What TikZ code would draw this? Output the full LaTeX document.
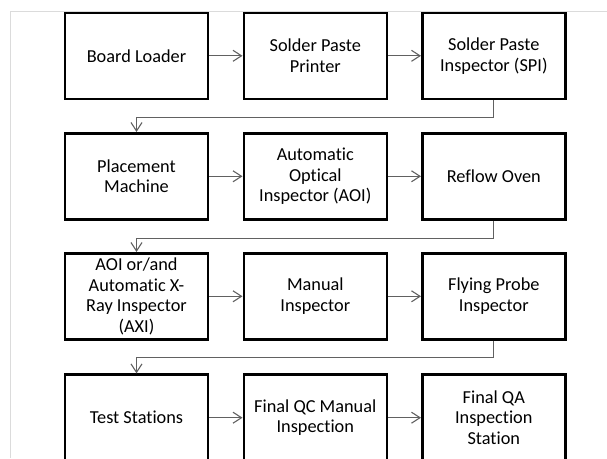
\documentclass[tikz,border=0pt]{standalone}
\usepackage{fontspec}
\setmainfont{Carlito}[Ligatures=NoCommon]
\usetikzlibrary{arrows.meta}
\begin{document}
\begin{tikzpicture}[x=1pt,y=1pt,
  box/.style={draw=black, line width=2.6pt, minimum width=143pt, minimum height=86pt,
    inner sep=0pt, align=center, font=\fontsize{18.3}{20.7}\selectfont},
  conn/.style={draw=black!62, line width=1.1pt, -{Straight Barb[length=8.5pt,width=11pt,line width=1.1pt]}},
  frame/.style={draw=black!14, line width=1pt}]
\useasboundingbox (0,0) rectangle (607,-458);
\clip (0,0) rectangle (607,-458);
\draw[frame] (607,-11) -- (10,-11) -- (10,-458);
% row 1
\node[box] (load) at (136.5,-55.8) {Board Loader};
\node[box] (print) at (315.3,-55.8) {Solder Paste\\Printer};
\node[box] (spi) at (493.8,-55.8) {Solder Paste\\Inspector (SPI)};
% row 2
\node[box] (place) at (136.5,-176.3) {Placement\\Machine};
\node[box] (aoi) at (315.3,-176.3) {Automatic\\Optical\\Inspector (AOI)};
\node[box] (oven) at (493.8,-176.3) {Reflow Oven};
% row 3
\node[box] (axi) at (136.5,-296.3) {AOI or/and\\Automatic X-\\Ray Inspector\\(AXI)};
\node[box] (man) at (315.3,-296.3) {Manual\\Inspector};
\node[box] (fly) at (493.8,-296.3) {Flying Probe\\Inspector};
% row 4
\node[box] (test) at (136.5,-417.7) {Test Stations};
\node[box] (qc) at (315.3,-417.7) {Final QC Manual\\Inspection};
\node[box] (qa) at (493.8,-417.7) {Final QA\\Inspection\\Station};
% horizontal connectors
\draw[conn] (load) -- (print);
\draw[conn] (print) -- (spi);
\draw[conn] (place) -- (aoi);
\draw[conn] (aoi) -- (oven);
\draw[conn] (axi) -- (man);
\draw[conn] (man) -- (fly);
\draw[conn] (test) -- (qc);
\draw[conn] (qc) -- (qa);
% row-to-row connectors
\draw[conn] (spi.south) -- ++(0,-17.5) -| (place.north);
\draw[conn] (oven.south) -- ++(0,-17.5) -| (axi.north);
\draw[conn] (fly.south) -- ++(0,-17) -| (test.north);
\end{tikzpicture}
\end{document}
